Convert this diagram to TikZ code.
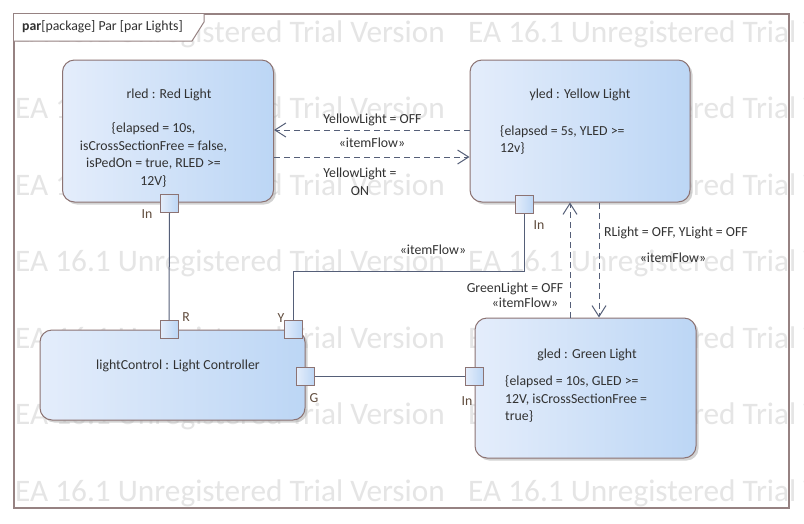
\documentclass[tikz,border=0pt]{standalone}
\usepackage{fontspec}
\setmainfont{Carlito}
\usetikzlibrary{arrows.meta,shadows}
\definecolor{wm}{RGB}{229,229,229}
\definecolor{framec}{RGB}{150,130,130}
\definecolor{boxline}{RGB}{140,115,115}
\definecolor{fillL}{RGB}{228,237,251}
\definecolor{fillR}{RGB}{188,214,245}
\definecolor{conn}{RGB}{85,95,120}
\definecolor{txt}{RGB}{50,50,50}
\definecolor{porttxt}{RGB}{95,75,60}
\begin{document}
\begin{tikzpicture}[x=1pt,y=-1pt,
  part/.style={draw=boxline, line width=1pt, rounded corners=12pt, left color=fillL, right color=fillR,
    drop shadow={shadow xshift=2.5pt,shadow yshift=-2.5pt,fill=black!35,opacity=0.5}, inner sep=0pt},
  port/.style={draw=boxline, line width=1pt, left color=fillL, right color=fillR, minimum size=18pt, inner sep=0pt},
  lbl/.style={font=\fontsize{13.8}{17.6}\selectfont, text=txt, inner sep=0pt},
  plbl/.style={font=\fontsize{13.8}{15}\selectfont, text=porttxt, inner sep=0pt},
  wmtext/.style={font=\fontsize{31.3}{31}\selectfont, text=wm, inner sep=0pt, anchor=west},
  conline/.style={draw=conn, line width=1pt},
  flow/.style={draw=conn, line width=1pt, dash pattern=on 6pt off 4pt, -{Straight Barb[length=11pt,width=14pt]}},
]
\useasboundingbox (0,0) rectangle (804,523);
\fill[white] (0,0) rectangle (804,523);
% watermark
\begin{scope}
\clip (0,0) rectangle (804,523);
\foreach \r in {0,...,6}{
  \node[wmtext] (wmA\r) at (15,{34+76.5*\r}) {EA 16.1 Unregistered Trial Version};
  \node[wmtext] (wmB\r) at (468,{34+76.5*\r}) {EA 16.1 Unregistered Trial Version};
}
\end{scope}
% frame
\draw[framec, line width=1.3pt] (14,14) rectangle (789,508);
\fill[white] (14,14) -- (204,14) -- (204,22) -- (192,41) -- (14,41) -- cycle;
\draw[framec, line width=1pt] (204,14) -- (204,22) -- (192,41) -- (14,41);
\node[lbl, anchor=west] (title) at (22,27) {\textbf{par}[package] Par [par Lights]};

% parts
\node[part, minimum width=211pt, minimum height=142pt] (rled) at (168,131) {};
\node[part, minimum width=220pt, minimum height=142pt] (yled) at (580,131) {};
\node[part, minimum width=265pt, minimum height=90pt] (lc) at (172.5,375) {};
\node[part, minimum width=221pt, minimum height=140pt] (gled) at (585.5,388) {};

% part texts
\node[lbl] (rledT) at (169,95) {rled : Red Light};
\node[lbl, align=center] (rledC) at (153.5,155) {\{elapsed = 10s,\\isCrossSectionFree = false,\\isPedOn = true, RLED >=\\12V\}};
\node[lbl] (yledT) at (580,95) {yled : Yellow Light};
\node[lbl, align=left, anchor=west] (yledC) at (500,140) {\{elapsed = 5s, YLED >=\\12v\}};
\node[lbl] (lcT) at (178,366) {lightControl : Light Controller};
\node[lbl] (gledT) at (587,355) {gled : Green Light};
\node[lbl, align=left, anchor=west] (gledC) at (505,399) {\{elapsed = 10s, GLED >=\\12V, isCrossSectionFree =\\true\}};

% ports
\node[port] (rledIn) at (169.5,203.5) {};
\node[port] (yledIn) at (524,204.5) {};
\node[port] (lcR) at (169,329.5) {};
\node[port] (lcY) at (293,329.5) {};
\node[port] (lcG) at (305.5,376) {};
\node[port] (gledIn) at (474.5,376) {};

% port labels
\node[plbl] (lRin) at (147,214) {In};
\node[plbl] (lYin) at (539,225) {In};
\node[plbl] (lR) at (186,317) {R};
\node[plbl] (lY) at (281,318) {Y};
\node[plbl] (lG) at (314,398) {G};
\node[plbl] (lGin) at (467,401) {In};

% solid connectors
\coordinate (yc) at (524,271);
\draw[conline] (rledIn.south) -- (lcR.north);
\draw[conline] (yledIn.south) -- (yc) -| (lcY.north);
\draw[conline] (lcG.east) -- (gledIn.west);

% item flows
\draw[flow] ([yshift=1pt]yled.west) -- ([yshift=1pt]rled.east);
\draw[flow] ([yshift=-26pt]rled.east) -- ([yshift=-26pt]yled.west);
\draw[flow] ([xshift=-15.5pt]gled.north) -- ([xshift=-10pt]yled.south);
\draw[flow] ([xshift=19pt]yled.south) -- ([xshift=13.5pt]gled.north);

% flow labels
\node[lbl] (f1a) at (372.5,120) {YellowLight = OFF};
\node[lbl] (f1b) at (372,143) {«itemFlow»};
\node[lbl, align=center] (f2) at (360,181.5) {YellowLight =\\ON};
\node[lbl] (f3) at (433,250) {«itemFlow»};
\node[lbl] (f4a) at (515,289) {GreenLight = OFF};
\node[lbl] (f4b) at (525,303) {«itemFlow»};
\node[lbl] (f5a) at (676,233) {RLight = OFF, YLight = OFF};
\node[lbl] (f5b) at (673,258) {«itemFlow»};
\end{tikzpicture}
\end{document}
